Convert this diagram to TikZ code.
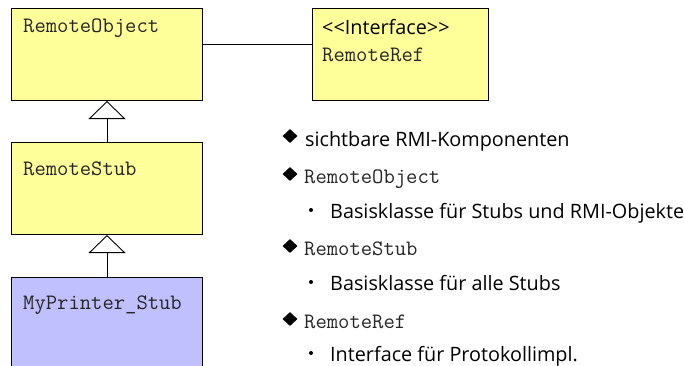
\documentclass[tikz,border=0pt]{standalone}
\usepackage{fontspec}
\setsansfont{Open Sans}
\usetikzlibrary{arrows.meta,shapes.geometric,calc}
\definecolor{umlyellow}{HTML}{FFFF99}
\definecolor{umlblue}{HTML}{C0C0FF}
\begin{document}
\begin{tikzpicture}[x=1pt,y=-1pt,
  cls/.style={draw=black, line width=1pt, inner sep=0pt, anchor=north west},
  mono/.style={font=\fontsize{22}{24}\selectfont\ttfamily, text=black!85, inner sep=0pt, anchor=base west},
  lbl/.style={font=\fontsize{19.8}{22}\selectfont\sffamily, inner sep=0pt, anchor=base west},
  bigbullet/.style={diamond, fill=black, inner sep=0pt, minimum width=15pt, minimum height=14pt},
  smallbullet/.style={circle, fill=black, inner sep=0pt, minimum size=4pt},
  gen/.style={line width=0.9pt, -{Triangle[open, length=18pt, width=37pt, line width=0.9pt]}}
]
\useasboundingbox (0,0) rectangle (684,365);

% class boxes
\node[cls, fill=umlyellow, minimum width=191pt, minimum height=92pt] (ro) at (11,8) {};
\node[cls, fill=umlyellow, minimum width=176pt, minimum height=92pt] (rr) at (312,8) {};
\node[cls, fill=umlyellow, minimum width=191pt, minimum height=92pt] (rs) at (11,142) {};
\node[cls, fill=umlblue, minimum width=191pt, minimum height=100pt] (mp) at (11,277) {};

% class names
\node[mono] (roT) at (23,32.5) {RemoteObject};
\node[lbl] (rrS) at (322,34) {{<}{<}Interface{>}{>}};
\node[mono] (rrT) at (322,61) {RemoteRef};
\node[mono] (rsT) at (23,175) {RemoteStub};
\node[mono] (mpT) at (23,309) {MyPrinter\_Stub};

% connectors
\draw[line width=0.9pt] ($(ro.north east)+(0,36)$) -- ($(rr.north west)+(0,36)$);
\draw[gen] (rs.north) -- (ro.south);
\draw[gen] (mp.north) -- (rs.south);

% bullet list
\node[bigbullet] (b1) at (290,136) {};
\node[lbl] (t1) at (305,146) {sichtbare RMI-Komponenten};
\node[bigbullet] (b2) at (290,174) {};
\node[mono] (t2) at (304,183) {RemoteObject};
\node[smallbullet] (d1) at (311,210) {};
\node[lbl] (t3) at (330,218) {Basisklasse für Stubs und RMI-Objekte};
\node[bigbullet] (b3) at (290,246) {};
\node[mono] (t4) at (304,255) {RemoteStub};
\node[smallbullet] (d2) at (311,282) {};
\node[lbl] (t5) at (330,290) {Basisklasse für alle Stubs};
\node[bigbullet] (b4) at (290,319) {};
\node[mono] (t6) at (304,328) {RemoteRef};
\node[smallbullet] (d3) at (311,353) {};
\node[lbl] (t7) at (330,361) {Interface für Protokollimpl.};
\end{tikzpicture}
\end{document}
